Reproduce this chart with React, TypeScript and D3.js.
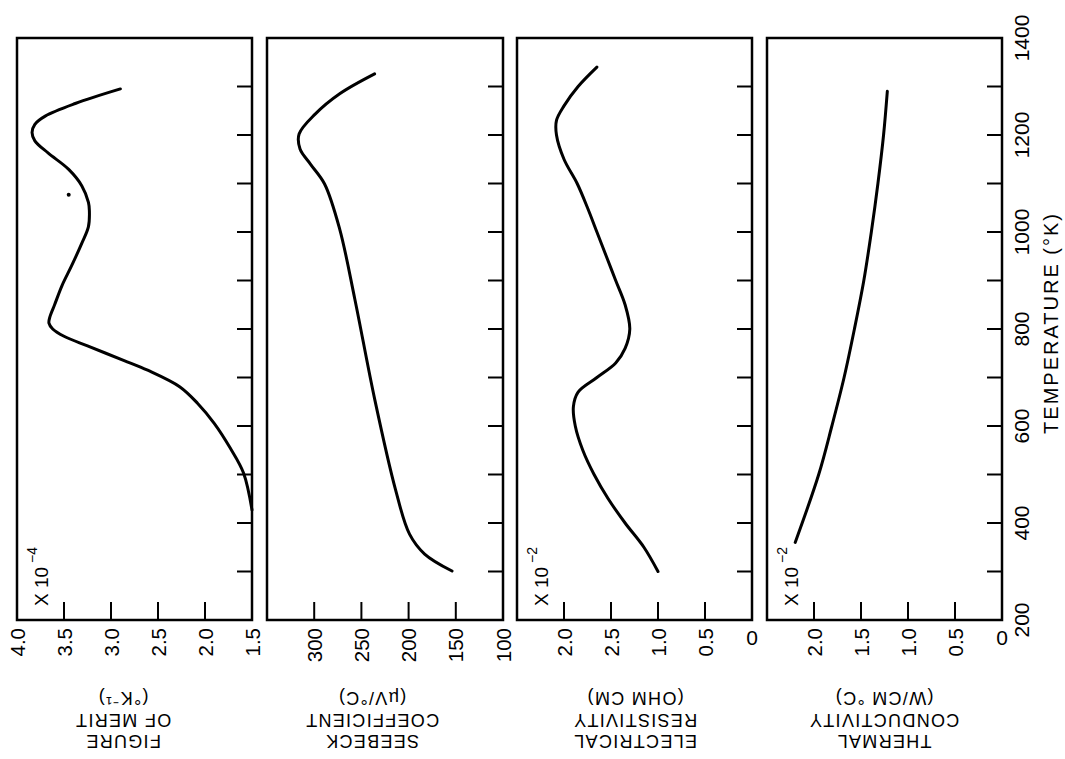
import React from "react";
import * as d3 from "d3";

// Temperature axis (°K)
const tempTicks = [200, 300, 400, 500, 600, 700, 800, 900, 1000, 1100, 1200, 1300, 1400];
const tempLabels = ["200", "400", "600", "800", "1000", "1200", "1400"];
const tempLabelValues = [200, 400, 600, 800, 1000, 1200, 1400];

// Figure of merit (x10^-4 °K^-1)
const fomT = [427, 503, 554, 605, 647, 681, 715, 735, 765, 785, 800, 812, 825, 850, 890, 930, 977, 1011, 1044, 1061, 1095, 1129, 1163, 1188, 1205, 1222, 1239, 1265, 1295];
const fomV = [1.5, 1.59, 1.73, 1.9, 2.08, 2.27, 2.61, 2.86, 3.25, 3.5, 3.62, 3.66, 3.65, 3.6, 3.52, 3.42, 3.31, 3.24, 3.23, 3.24, 3.31, 3.45, 3.67, 3.81, 3.84, 3.81, 3.7, 3.38, 2.9];
const fomDotT = [1077];
const fomDotV = [3.45];
const fomTickVals = [4.0, 3.5, 3.0, 2.5, 2.0, 1.5];
const fomTickLabels = ["4.0", "3.5", "3.0", "2.5", "2.0", "1.5"];

// Seebeck coefficient (µV/°C)
const seeT = [301, 336, 377, 470, 656, 862, 1006, 1099, 1140, 1171, 1202, 1243, 1285, 1326];
const seeV = [154, 183, 199, 214, 236, 257, 273, 289, 304, 315, 316, 299, 273, 236];
const seeTickVals = [300, 250, 200, 150, 100];
const seeTickLabels = ["300", "250", "200", "150", "100"];

// Electrical resistivity (x10^-2 ohm cm)
const resT = [300, 350, 400, 450, 500, 550, 600, 640, 670, 700, 730, 760, 800, 850, 900, 950, 1000, 1050, 1100, 1150, 1200, 1230, 1260, 1300, 1340];
const resV = [1.0, 1.15, 1.35, 1.53, 1.68, 1.8, 1.88, 1.9, 1.85, 1.65, 1.45, 1.35, 1.3, 1.35, 1.45, 1.55, 1.65, 1.75, 1.86, 2.0, 2.08, 2.08, 2.0, 1.85, 1.65];
const resTickVals = [2.0, 1.5, 1.0, 0.5, 0];
const resTickLabels = ["2.0", "2.5", "1.0", "0.5", "0"];

// Thermal conductivity (x10^-2 W/cm °C)
const thT = [360, 500, 600, 700, 800, 900, 1000, 1100, 1200, 1290];
const thV = [2.2, 1.95, 1.81, 1.68, 1.57, 1.47, 1.39, 1.32, 1.26, 1.22];
const thTickVals = [2.0, 1.5, 1.0, 0.5, 0];
const thTickLabels = ["2.0", "1.5", "1.0", "0.5", "0"];

const titles = [
  ["FIGURE", "OF MERIT", "(°K⁻¹)"],
  ["SEEBECK", "COEFFICIENT", "(µV/°C)"],
  ["ELECTRICAL", "RESISTIVITY", "(OHM CM)"],
  ["THERMAL", "CONDUCTIVITY", "(W/CM °C)"],
];
const multipliers = ["−4", "", "−2", "−2"];

const FONT = "'Liberation Sans', Arial, sans-serif";
const TOP = 38;
const BOTTOM = 620;

export default function App() {
  const yT = d3.scaleLinear().domain([200, 1400]).range([BOTTOM, TOP]);

  const panels = [
    { x: d3.scaleLinear().domain([4.0, 1.5]).range([17, 252]), T: fomT, V: fomV, tv: fomTickVals, tl: fomTickLabels, titleX: 123 },
    { x: d3.scaleLinear().domain([350, 100]).range([267, 503]), T: seeT, V: seeV, tv: seeTickVals, tl: seeTickLabels, titleX: 372 },
    { x: d3.scaleLinear().domain([2.5, 0]).range([517, 752]), T: resT, V: resV, tv: resTickVals, tl: resTickLabels, titleX: 635 },
    { x: d3.scaleLinear().domain([2.5, 0]).range([767, 1002]), T: thT, V: thV, tv: thTickVals, tl: thTickLabels, titleX: 884 },
  ];

  return (
    <svg width={1065} height={759} style={{ position: "absolute", left: 0, top: 0, background: "#fff" }} fontFamily={FONT}>
      <rect width={1065} height={759} fill="#fff" />
      {panels.map((p, i) => {
        const [x0, x1] = p.x.range();
        const line = d3
          .line<number>()
          .x((_, k) => p.x(p.V[k]))
          .y((_, k) => yT(p.T[k]))
          .curve(d3.curveCatmullRom.alpha(0.5));
        const path = line(p.T) || "";
        const edgeVals = p.x.domain();
        return (
          <g key={i}>
            <rect x={x0} y={TOP} width={x1 - x0} height={BOTTOM - TOP} fill="none" stroke="#000" strokeWidth={2.5} />
            {tempTicks.slice(1, -1).map((t) => (
              <line key={t} x1={x1 - 15} x2={x1} y1={yT(t)} y2={yT(t)} stroke="#000" strokeWidth={2} />
            ))}
            {p.tv
              .filter((v) => v !== edgeVals[0] && v !== edgeVals[1])
              .map((v) => (
                <line key={v} x1={p.x(v)} x2={p.x(v)} y1={BOTTOM} y2={BOTTOM - 18} stroke="#000" strokeWidth={2} />
              ))}
            {p.tv.map((v, k) => {
              const lx = p.x(v);
              return p.tl[k] === "0" ? (
                <text key={k} x={lx} y={637} fontSize={21} textAnchor="middle" dominantBaseline="central">
                  {p.tl[k]}
                </text>
              ) : (
                <text key={k} transform={`translate(${lx},${628}) rotate(-90)`} fontSize={20.5} textAnchor="end" dominantBaseline="central">
                  {p.tl[k]}
                </text>
              );
            })}
            <path d={path} fill="none" stroke="#000" strokeWidth={3} strokeLinecap="round" strokeLinejoin="round" />
            {multipliers[i] && (
              <text transform={`translate(${x0 + 24},${606}) rotate(-90)`} fontSize={19} dominantBaseline="central">
                X 10
                <tspan dy={-9} dx={4} fontSize={14}>
                  {multipliers[i]}
                </tspan>
              </text>
            )}
            {titles[i].map((s, k) => (
              <text
                key={k}
                transform={`translate(${p.titleX},${741 - k * 21.5}) rotate(180)`}
                fontSize={18}
                letterSpacing={1.3}
                textAnchor="middle"
                dominantBaseline="central"
              >
                {s}
              </text>
            ))}
          </g>
        );
      })}
      {fomDotT.map((t, k) => (
        <circle key={k} cx={panels[0].x(fomDotV[k])} cy={yT(t)} r={2} fill="#000" />
      ))}
      {tempLabelValues.map((t, k) => (
        <text key={t} transform={`translate(${1021},${yT(t)}) rotate(-90)`} fontSize={21} textAnchor="middle" dominantBaseline="central">
          {tempLabels[k]}
        </text>
      ))}
      <text transform={`translate(${1051},${323}) rotate(-90)`} fontSize={20} letterSpacing={2} textAnchor="middle" dominantBaseline="central">
        TEMPERATURE (°K)
      </text>
    </svg>
  );
}
